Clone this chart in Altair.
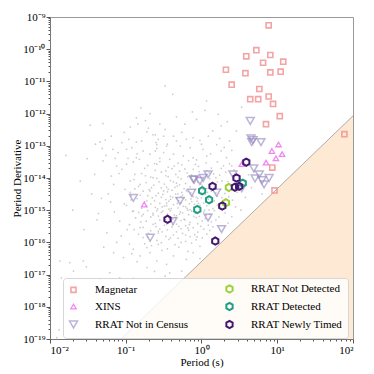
import json
import altair as alt
import pandas as pd

FONT = "Liberation Serif"

# ---------------- featured populations (period in s, Pdot in s/s) ----------------
magnetar_period = [7.7, 5.3, 3.9, 8.1, 6.5, 12.0, 2.1, 3.8, 8.1, 11.1, 2.5, 5.8, 4.4, 5.6,
                   7.7, 8.8, 10.8, 7.1, 77.0, 8.6, 9.2]
magnetar_pdot = [5.5e-10, 9.3e-11, 6.0e-11, 6.6e-11, 3.8e-11, 4.1e-11, 2.3e-11, 1.8e-11, 1.9e-11,
                 2.0e-11, 7.9e-12, 5.8e-12, 2.8e-12, 2.8e-12, 3.4e-12, 2.0e-12, 8.3e-13, 4.7e-13,
                 2.3e-13, 2.1e-14, 4.1e-15]

xins_period = [10.4, 8.5, 11.6, 9.6, 7.1, 3.4, 0.175]
xins_pdot = [1.1e-13, 6.9e-14, 5.5e-14, 4.1e-14, 3.0e-14, 2.7e-14, 1.5e-15]

rrat_nic_period = [4.4, 4.5, 4.8, 4.6, 6.1, 4.9, 5.8, 5.1, 6.3, 7.8, 6.7, 2.6, 3.4, 1.22,
                   1.05, 0.95, 0.80, 0.78, 0.74, 0.52, 0.126, 1.58, 1.22, 0.42, 1.84, 0.21]
rrat_nic_pdot = [5.9e-13, 1.7e-13, 1.5e-13, 1.3e-13, 1.3e-13, 2.0e-14, 1.3e-14, 9.7e-15, 8.5e-15,
                 1.0e-14, 6.3e-15, 1.3e-14, 4.8e-15, 1.3e-14, 1.0e-14, 8.1e-15, 8.9e-15, 9.1e-15,
                 3.5e-15, 1.95e-15, 2.4e-15, 3.5e-15, 5.9e-16, 4.6e-16, 2.6e-16, 1.4e-16]

rrat_nd_period = [2.3, 2.1]
rrat_nd_pdot = [5.1e-15, 1.7e-15]

rrat_det_period = [1.02, 1.26, 0.88, 3.5]
rrat_det_pdot = [4.0e-15, 2.1e-15, 1.05e-15, 6.9e-15]

rrat_new_period = [3.9, 2.9, 2.76, 3.14, 1.40, 1.88, 0.356, 1.52]
rrat_new_pdot = [3.1e-14, 1.0e-14, 5.2e-15, 5.5e-15, 5.5e-15, 1.35e-15, 5.2e-16, 1.1e-16]

# ---------------- background pulsar population (log10 P, log10 Pdot) ----------------
bg_top = [(-0.80, -11.82), (-0.86, -12.13), (-0.68, -12.00), (-1.47, -12.36), (-1.30, -12.31),
          (-0.94, -12.42), (-0.84, -12.32), (-0.72, -12.57), (-1.19, -12.70), (-1.34, -12.88),
          (-1.27, -12.82), (-1.05, -12.90), (-0.96, -12.80), (-0.86, -12.88), (-0.79, -12.85),
          (-0.61, -12.66), (-0.60, -12.90), (-1.31, -13.08), (-1.17, -13.11), (-1.10, -13.21),
          (-0.99, -13.11), (-0.92, -13.06), (-0.85, -13.25), (-0.77, -13.16), (-0.68, -13.26),
          (-0.59, -13.08), (-1.79, -13.30), (-1.51, -13.40), (-1.14, -13.39), (-0.97, -13.39),
          (-0.82, -13.42), (-0.48, -11.14), (-0.38, -11.40), (0.045, -11.90), (0.067, -11.61),
          (0.53, -11.80), (0.22, -12.02), (-0.55, -12.33), (-0.48, -12.49), (-0.22, -12.33),
          (-0.065, -12.18), (0.26, -12.38), (-0.64, -12.66), (-0.57, -12.80), (-0.50, -12.70),
          (-0.37, -12.70), (-0.33, -12.85), (-0.20, -12.80), (-0.11, -12.75), (-0.02, -12.83),
          (0.09, -12.70), (0.15, -12.54), (0.24, -12.77), (0.37, -12.85), (0.46, -12.54),
          (-0.59, -12.96), (-0.46, -13.01), (-0.28, -13.01), (-0.15, -13.06), (0.02, -13.11),
          (0.20, -12.96), (-0.61, -13.16), (-0.50, -13.21), (-0.37, -13.26), (-0.24, -13.32),
          (-0.11, -13.37), (0.07, -13.32), (0.26, -13.16), (0.40, -13.14), (-0.55, -13.39),
          (-0.42, -13.42), (-0.065, -13.44), (0.33, -13.37)]

bg_left = [(-1.41, -13.89), (-1.45, -14.49), (-1.30, -13.47), (-1.32, -14.63), (-1.23, -14.49),
           (-1.08, -15.34), (-1.16, -14.20), (-1.19, -13.94), (-1.12, -13.63), (-1.05, -13.73),
           (-0.99, -13.57), (-0.94, -14.09), (-0.88, -13.89), (-0.81, -14.20), (-0.90, -15.02),
           (-0.81, -15.54), (-0.77, -15.85), (-0.72, -16.16), (-0.79, -15.18), (-0.72, -14.71),
           (-0.68, -14.40), (-0.64, -13.99), (-0.59, -13.57), (-0.86, -13.37), (-0.59, -15.02),
           (-0.64, -15.44), (-0.57, -15.65), (-0.57, -16.06), (-1.60, -14.10), (-1.70, -15.00),
           (-1.38, -15.30), (-1.25, -15.70), (-1.12, -16.00), (-0.98, -15.60), (-1.02, -14.80),
           (-1.15, -15.05), (-0.93, -14.55), (-1.55, -15.60)]

bg_bottom = [(-1.87, -16.58), (-1.74, -16.63), (-1.85, -17.10), (-1.69, -16.89), (-1.52, -16.76),
             (-1.34, -17.16), (-1.21, -16.94), (-1.56, -16.58), (-1.08, -17.10), (-0.90, -17.12),
             (-0.72, -16.78), (-0.59, -16.58), (-0.46, -16.68), (-0.37, -16.42), (-0.26, -16.89),
             (-0.20, -16.53), (-0.11, -16.32), (-0.02, -16.50), (-0.68, -16.32), (-0.81, -16.42),
             (-0.90, -16.21), (-1.03, -16.47), (-1.16, -16.32), (-0.95, -16.05), (-0.85, -16.60),
             (-0.62, -16.90), (-0.52, -16.25), (-0.42, -16.95), (-0.30, -16.15), (-0.48, -17.05),
             (-1.91, -18.96), (-1.88, -18.72)]

bg_right = [(0.55, -13.60), (0.62, -13.90), (0.50, -14.20), (0.58, -14.60), (0.45, -14.90),
            (0.40, -15.20), (0.66, -14.30), (0.70, -13.80), (0.35, -15.40), (0.52, -15.00),
            (0.75, -14.00), (0.80, -14.50)]

bg_core = [(-0.55, -13.49), (-0.31, -13.54), (-0.17, -13.46), (0.06, -13.53), (0.21, -13.50), (0.37, -13.56),
           (-0.71, -13.61), (-0.44, -13.66), (-0.26, -13.59), (-0.04, -13.64), (0.13, -13.69), (0.29, -13.62),
           (-0.61, -13.76), (-0.39, -13.71), (-0.29, -13.79), (-0.11, -13.73), (0.07, -13.77), (0.26, -13.70), (0.43, -13.75),
           (-0.79, -13.86), (-0.53, -13.82), (-0.34, -13.89), (-0.19, -13.84), (-0.03, -13.80), (0.16, -13.87), (0.32, -13.82),
           (-0.67, -13.97), (-0.47, -13.93), (-0.31, -13.98), (-0.13, -13.90), (0.05, -13.95), (0.19, -13.99), (0.46, -13.92),
           (-0.89, -14.05), (-0.59, -14.01), (-0.41, -14.08), (-0.27, -14.03), (-0.07, -14.06), (0.11, -14.02), (0.27, -14.09), (0.51, -14.04),
           (-0.73, -14.14), (-0.49, -14.19), (-0.37, -14.12), (-0.21, -14.17), (-0.05, -14.13), (0.15, -14.18), (0.35, -14.11),
           (-0.83, -14.26), (-0.63, -14.22), (-0.46, -14.28), (-0.29, -14.21), (-0.15, -14.27), (0.01, -14.23), (0.17, -14.29), (0.39, -14.24),
           (-0.69, -14.36), (-0.53, -14.31), (-0.39, -14.38), (-0.23, -14.33), (-0.09, -14.37), (0.07, -14.32), (0.25, -14.35),
           (-0.94, -14.45), (-0.77, -14.41), (-0.57, -14.47), (-0.45, -14.43), (-0.31, -14.49), (-0.19, -14.42), (-0.01, -14.46), (0.13, -14.41), (0.31, -14.48), (0.47, -14.44),
           (-0.71, -14.55), (-0.51, -14.51), (-0.41, -14.57), (-0.25, -14.53), (-0.11, -14.58), (0.05, -14.52), (0.21, -14.56),
           (-0.85, -14.64), (-0.65, -14.61), (-0.47, -14.67), (-0.33, -14.62), (-0.21, -14.68), (-0.05, -14.63), (0.09, -14.66), (0.27, -14.61), (0.41, -14.69),
           (-0.75, -14.74), (-0.55, -14.79), (-0.43, -14.72), (-0.27, -14.77), (-0.13, -14.73), (0.03, -14.78), (0.17, -14.71),
           (-0.99, -14.85), (-0.67, -14.81), (-0.49, -14.87), (-0.37, -14.83), (-0.21, -14.89), (-0.09, -14.82), (0.07, -14.86), (0.21, -14.84), (0.37, -14.81),
           (-0.79, -14.94), (-0.61, -14.91), (-0.43, -14.97), (-0.31, -14.93), (-0.15, -14.98), (-0.03, -14.92), (0.15, -14.95),
           (-0.91, -15.04), (-0.71, -15.01), (-0.53, -15.07), (-0.41, -15.02), (-0.25, -15.08), (-0.13, -15.03), (0.03, -15.06), (0.17, -15.01), (0.31, -15.08),
           (-0.77, -15.13), (-0.57, -15.18), (-0.45, -15.12), (-0.33, -15.17), (-0.17, -15.14), (-0.03, -15.19), (0.11, -15.12),
           (-0.87, -15.24), (-0.67, -15.21), (-0.49, -15.27), (-0.35, -15.22), (-0.23, -15.28), (-0.07, -15.23), (0.05, -15.26), (0.23, -15.21),
           (-0.73, -15.34), (-0.55, -15.31), (-0.43, -15.37), (-0.27, -15.32), (-0.15, -15.38), (0.01, -15.33), (0.13, -15.36),
           (-0.95, -15.45), (-0.61, -15.41), (-0.49, -15.47), (-0.33, -15.43), (-0.21, -15.48), (-0.05, -15.42), (0.09, -15.46),
           (-0.77, -15.53), (-0.55, -15.58), (-0.39, -15.52), (-0.27, -15.57), (-0.11, -15.54), (0.03, -15.59),
           (-0.67, -15.64), (-0.45, -15.61), (-0.33, -15.67), (-0.17, -15.62), (-0.05, -15.68), (0.11, -15.63),
           (-0.83, -15.74), (-0.57, -15.71), (-0.37, -15.77), (-0.25, -15.72), (-0.09, -15.76),
           (-0.71, -15.84), (-0.47, -15.81), (-0.31, -15.87), (-0.15, -15.82), (0.01, -15.86),
           (-0.59, -15.94), (-0.43, -15.91), (-0.21, -15.97), (-0.07, -15.92),
           (-0.75, -16.04), (-0.53, -16.01), (-0.35, -16.07), (-0.13, -16.02)]

bg_dense = [(-0.38, -14.60), (-0.30, -14.70), (-0.24, -14.88), (-0.16, -14.80), (-0.06, -14.72),
            (-0.40, -14.95), (-0.28, -15.05), (-0.18, -15.00), (-0.10, -14.90), (-0.46, -14.78),
            (-0.34, -14.50), (-0.20, -14.38), (-0.12, -14.55), (-0.02, -14.85), (-0.52, -14.90),
            (-0.36, -15.15), (-0.22, -15.30), (-0.08, -15.10), (0.00, -14.62), (-0.60, -14.55),
            (-0.44, -14.35), (-0.26, -14.45), (-0.14, -14.65), (0.04, -15.00), (-0.32, -14.25),
            (-0.48, -15.30), (-0.38, -15.45), (-0.18, -15.55), (0.08, -14.45), (-0.64, -15.10)]

bg_extra = [(-0.62, -13.55), (-0.47, -13.78), (-0.36, -13.63), (-0.22, -13.72), (-0.08, -13.58),
            (0.10, -13.83), (0.24, -13.91), (0.40, -13.62), (-0.74, -13.93), (-0.56, -14.12),
            (-0.44, -13.96), (-0.33, -14.16), (-0.18, -13.96), (-0.01, -14.19), (0.21, -14.12),
            (0.33, -14.32), (-0.88, -14.34), (-0.66, -14.30), (-0.50, -14.40), (-0.35, -14.29),
            (-0.27, -14.58), (-0.14, -14.46), (0.02, -14.36), (0.19, -14.46), (0.36, -14.58),
            (-0.81, -14.53), (-0.62, -14.71), (-0.53, -14.60), (-0.41, -14.66), (-0.23, -14.62),
            (-0.07, -14.59), (0.12, -14.74), (0.29, -14.73), (-0.93, -14.68), (-0.72, -14.87),
            (-0.58, -14.96), (-0.46, -14.86), (-0.32, -14.79), (-0.19, -14.94), (-0.04, -14.79),
            (0.10, -14.99), (0.25, -14.93), (-0.83, -15.07), (-0.64, -15.15), (-0.51, -15.03),
            (-0.38, -15.28), (-0.29, -15.12), (-0.10, -15.19), (0.06, -15.16), (0.19, -15.30),
            (-0.80, -15.36), (-0.60, -15.51), (-0.46, -15.44), (-0.30, -15.50), (-0.16, -15.45),
            (-0.01, -15.50), (0.15, -15.52), (-0.89, -15.60), (-0.70, -15.72), (-0.52, -15.67),
            (-0.41, -15.86), (-0.21, -15.77), (-0.06, -15.83), (0.07, -15.74), (-0.66, -16.10),
            (-0.45, -16.20), (-0.27, -16.00), (-0.18, -16.28), (-0.02, -16.12), (-1.26, -13.30),
            (-1.09, -13.86), (-1.01, -14.35), (-1.20, -14.75), (-1.36, -15.10), (-1.06, -15.80),
            (-0.92, -16.35), (-1.29, -16.15), (-0.70, -12.45), (-0.45, -12.95), (-0.26, -12.58),
            (0.00, -12.95), (0.12, -13.25), (0.30, -13.05), (-0.74, -12.22), (-0.33, -12.10),
            (-0.12, -11.95), (0.34, -12.25), (-1.02, -12.58), (-1.40, -12.95), (-0.90, -13.50),
            (-0.75, -13.70)]

# ---------------- death line (boundary of shaded region) ----------------
death_period = [0.0865, 100.0]
death_pdot = [1e-19, 8.5e-13]
death_floor = [1e-19, 1e-19]

# ---------------- axis ticks ----------------
x_decades = [-2, -1, 0, 1, 2]
x_tick_labels = ["10⁻²", "10⁻¹", "10⁰", "10¹", "10²"]
y_decades = list(range(-19, -8))
y_tick_labels = ["10⁻¹⁹", "10⁻¹⁸", "10⁻¹⁷", "10⁻¹⁶", "10⁻¹⁵", "10⁻¹⁴",
                 "10⁻¹³", "10⁻¹²", "10⁻¹¹", "10⁻¹⁰", "10⁻⁹"]

x_tick_values = [m * 10.0 ** e for e in x_decades[:-1] for m in range(1, 10)] + [10.0 ** x_decades[-1]]
y_tick_values = [m * 10.0 ** e for e in y_decades[:-1] for m in range(1, 10)] + [10.0 ** y_decades[-1]]

# ---------------- styles ----------------
categories = ["Magnetar", "XINS", "RRAT Not in Census",
              "RRAT Not Detected", "RRAT Detected", "RRAT Newly Timed"]
HEX = "M0,-1L0.866,-0.5L0.866,0.5L0,1L-0.866,0.5L-0.866,-0.5Z"
style = {
    "Magnetar":           ("#f28e8e", "square", 26, 1.6, 0.8),
    "XINS":               ("#ef72ef", "triangle-up", 28, 1.3, 0.85),
    "RRAT Not in Census": ("#9486c0", "triangle-down", 62, 1.5, 0.62),
    "RRAT Not Detected":  ("#9bd23a", HEX, 52, 2.0, 1.0),
    "RRAT Detected":      ("#1f9e85", HEX, 52, 2.0, 1.0),
    "RRAT Newly Timed":   ("#45176f", HEX, 52, 2.0, 1.0),
}

# ---------------- build tables ----------------
def rows(name, periods, pdots):
    return [{"type": name, "period": p, "pdot": d} for p, d in zip(periods, pdots)]

featured = pd.DataFrame(
    rows("Magnetar", magnetar_period, magnetar_pdot)
    + rows("XINS", xins_period, xins_pdot)
    + rows("RRAT Not in Census", rrat_nic_period, rrat_nic_pdot)
    + rows("RRAT Not Detected", rrat_nd_period, rrat_nd_pdot)
    + rows("RRAT Detected", rrat_det_period, rrat_det_pdot)
    + rows("RRAT Newly Timed", rrat_new_period, rrat_new_pdot)
)

bg_all = bg_top + bg_left + bg_bottom + bg_right + bg_core + bg_dense + bg_extra
background = pd.DataFrame({"period": [10.0 ** a for a, b in bg_all],
                           "pdot": [10.0 ** b for a, b in bg_all]})

death = pd.DataFrame({"period": death_period, "pdot": death_pdot, "floor": death_floor})

# ---------------- scales & axes ----------------
is_decade = "abs(log(datum.value)/LN10 - round(log(datum.value)/LN10)) < 0.01"
x_label_expr = (f"{is_decade} ? {json.dumps(x_tick_labels, ensure_ascii=False)}"
                f"[round(log(datum.value)/LN10) + 2] : ''")
y_label_expr = (f"{is_decade} ? {json.dumps(y_tick_labels, ensure_ascii=False)}"
                f"[round(log(datum.value)/LN10) + 19] : ''")

axis_common = dict(grid=False, labelFont=FONT, titleFont=FONT, labelFontSize=11, titleFontSize=11,
                   labelColor="black", titleColor="black", titleFontWeight="normal",
                   domainColor="#777777", tickColor="#555555", labelOverlap=False,
                   tickSize={"condition": {"test": is_decade, "value": 4}, "value": 2})

x_scale = alt.Scale(type="log", domain=[1e-2, 1e2], nice=False)
y_scale = alt.Scale(type="log", domain=[1e-19, 1e-9], nice=False)
x_axis = alt.Axis(values=x_tick_values, labelExpr=x_label_expr, title="Period (s)",
                  labelPadding=1, titlePadding=1, **axis_common)
y_axis = alt.Axis(values=y_tick_values, labelExpr=y_label_expr, title="Period Derivative",
                  labelPadding=1, titlePadding=0, **axis_common)

X = alt.X("period:Q", scale=x_scale, axis=x_axis)
Y = alt.Y("pdot:Q", scale=y_scale, axis=y_axis)

# ---------------- layers ----------------
bg_layer = alt.Chart(background).mark_circle(size=3, color="#999999", opacity=0.5, clip=True).encode(x=X, y=Y)

area_layer = alt.Chart(death).mark_area(color="#fde9d4", opacity=1, clip=True).encode(
    x=X, y=Y, y2=alt.Y2("floor:Q"))
line_layer = alt.Chart(death).mark_line(color="#9a9a9a", strokeWidth=0.8, clip=True).encode(x=X, y=Y)

legend = alt.Legend(title=None, orient="none", legendX=13, legendY=261, columns=2,
                    columnPadding=33, rowPadding=1, padding=5, labelOffset=16,
                    labelFont=FONT, labelFontSize=11, labelColor="black",
                    fillColor="rgba(255,255,255,0.8)", strokeColor="#d6d6d6", cornerRadius=3)

def sc(i):
    return [style[k][i] for k in categories]

def nscale(i):
    return alt.Scale(type="ordinal", domain=categories, range=sc(i))

points_layer = alt.Chart(featured).mark_point(filled=False, clip=True).encode(
    x=X, y=Y,
    color=alt.Color("type:N", scale=alt.Scale(domain=categories, range=sc(0)), legend=legend),
    shape=alt.Shape("type:N", scale=alt.Scale(domain=categories, range=sc(1)), legend=legend),
    size=alt.Size("type:N", scale=nscale(2), legend=legend),
    strokeWidth=alt.StrokeWidth("type:N", scale=nscale(3), legend=legend),
    opacity=alt.Opacity("type:N", scale=nscale(4), legend=legend),
)

chart = alt.layer(bg_layer, area_layer, line_layer, points_layer).properties(
    width=303, height=322,
    padding={"left": 3, "top": 3, "right": 2, "bottom": 2},
).configure_view(stroke="#999999", strokeWidth=1)

chart.save("out.html", embed_options={"renderer": "svg", "actions": False})
